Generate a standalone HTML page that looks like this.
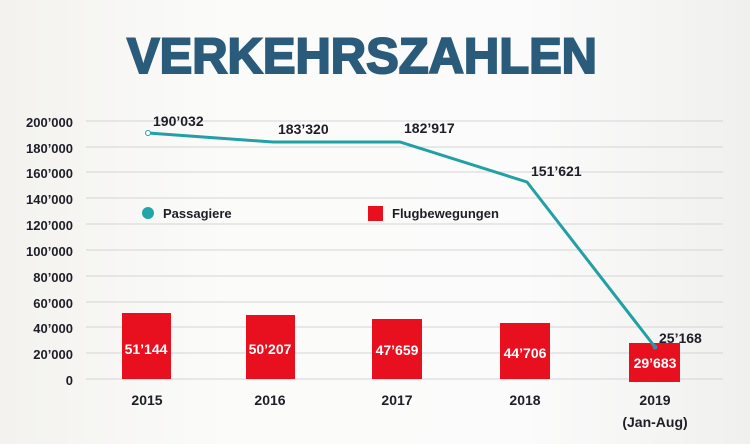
<!DOCTYPE html>
<html><head><meta charset="utf-8"><style>
body{margin:0;width:750px;height:444px;overflow:hidden;background:linear-gradient(90deg,#f3f2ee,#fbfbfa 30%,#fbfbfb 70%,#f0f0ee);}
svg{display:block}
text{font-family:"Liberation Sans",sans-serif;font-weight:bold}
</style></head><body>
<svg width="750" height="444" viewBox="0 0 750 444">
<text x="362" y="73" text-anchor="middle" font-size="50" fill="#2b5b7a" stroke="#2b5b7a" stroke-width="2" textLength="470" lengthAdjust="spacingAndGlyphs">VERKEHRSZAHLEN</text>
<g stroke="#d4d4d6" stroke-width="1">
<line x1="86" x2="723" y1="121" y2="121"/><line x1="86" x2="723" y1="147" y2="147"/>
<line x1="86" x2="723" y1="172" y2="172"/><line x1="86" x2="723" y1="198" y2="198"/>
<line x1="86" x2="723" y1="224" y2="224"/><line x1="86" x2="723" y1="250" y2="250"/>
<line x1="86" x2="723" y1="276" y2="276"/><line x1="86" x2="723" y1="302" y2="302"/>
<line x1="86" x2="723" y1="327" y2="327"/><line x1="86" x2="723" y1="353" y2="353"/>
<line x1="86" x2="723" y1="379" y2="379"/>
</g>
<g font-size="13" fill="#1e1e28" text-anchor="end">
<text x="73" y="127">200’000</text><text x="73" y="153">180’000</text><text x="73" y="178">160’000</text>
<text x="73" y="204">140’000</text><text x="73" y="230">120’000</text><text x="73" y="256">100’000</text>
<text x="73" y="282">80’000</text><text x="73" y="308">60’000</text><text x="73" y="333">40’000</text>
<text x="73" y="359">20’000</text><text x="73" y="385">0</text>
</g>
<g fill="#e8101e">
<rect x="122" y="313" width="49" height="66"/><rect x="246" y="315" width="49" height="64"/>
<rect x="372" y="319" width="50" height="60"/><rect x="500" y="323" width="50" height="56"/>
<rect x="629" y="343" width="51" height="39"/>
<rect x="368" y="206" width="15" height="15"/>
</g>
<g font-size="14" fill="#fff" text-anchor="middle">
<text x="146" y="354">51’144</text><text x="270" y="354">50’207</text><text x="397" y="355">47’659</text>
<text x="525" y="358">44’706</text><text x="655" y="368">29’683</text>
</g>
<polyline points="148,133 273,142 400,142 527,182 655,347" fill="none" stroke="#22a0a4" stroke-width="3"/>
<circle cx="148" cy="133" r="2.5" fill="#fff" stroke="#22a0a4"/>
<circle cx="655" cy="347" r="2.5" fill="#3a8ab0"/>
<circle cx="148" cy="213" r="6" fill="#22a6aa"/>
<g font-size="14" fill="#1e1e28">
<text x="153" y="126">190’032</text><text x="278" y="134">183’320</text><text x="404" y="133">182’917</text>
<text x="531" y="176">151’621</text><text x="659" y="343">25’168</text>
<text x="163" y="218" font-size="13">Passagiere</text><text x="392" y="218" font-size="13">Flugbewegungen</text>
</g>
<g font-size="14" fill="#1e1e28" text-anchor="middle">
<text x="147" y="405">2015</text><text x="270" y="405">2016</text><text x="397" y="405">2017</text>
<text x="525" y="405">2018</text><text x="655" y="405">2019</text><text x="655" y="427">(Jan-Aug)</text>
</g>
</svg>
</body></html>
